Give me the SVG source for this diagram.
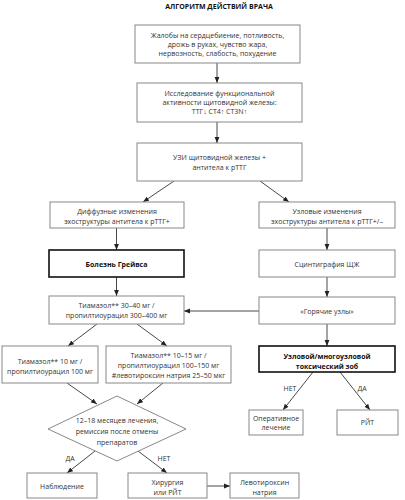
<svg xmlns="http://www.w3.org/2000/svg" width="405" height="500" viewBox="0 0 405 500">
<defs>
<marker id="ah" viewBox="0 0 10 10" refX="10" refY="5" markerWidth="6" markerHeight="6" orient="auto" markerUnits="userSpaceOnUse">
<path d="M0,1 L10,5 L0,9 Z" fill="#222"/>
</marker>
<style>
.bx{fill:#fff;stroke:#888;stroke-width:1}
.bb{fill:#fff;stroke:#111;stroke-width:1.6}
.t{font-family:"Open Sans","Noto Sans",sans-serif;font-size:7px;fill:#333;text-anchor:middle}
.b{font-weight:bold;fill:#111}
.c{fill:none;stroke:#333;stroke-width:0.9;marker-end:url(#ah)}
.l{fill:none;stroke:#333;stroke-width:0.9}
</style>
</defs>
<rect width="405" height="500" fill="#fff"/>
<text class="t b" x="219" y="9" font-size="7.2">АЛГОРИТМ ДЕЙСТВИЙ ВРАЧА</text>

<g id="connectors">
<path class="c" d="M217,63 L217,83"/>
<path class="c" d="M217,122 L217,143"/>
<path class="c" d="M174,181 L143,202"/>
<path class="c" d="M260,181 L289,202"/>
<path class="c" d="M116.5,228 L116.5,250"/>
<path class="c" d="M327,228 L327,250"/>
<path class="c" d="M116.5,277 L116.5,296"/>
<path class="c" d="M327,277 L327,297"/>
<path class="c" d="M259,311 L184,311"/>
<path class="c" d="M327,324 L327,346"/>
<path class="c" d="M97,324 L68,346"/>
<path class="c" d="M137,324 L167,346"/>
<path class="c" d="M67,383 L97,404"/>
<path class="c" d="M163,383 L137,404"/>
<path class="c" d="M95,451 L67,473"/>
<path class="c" d="M138,451 L167,473"/>
<path class="c" d="M207,486 L230,486"/>
<path class="c" d="M313,372 L283,410"/>
<path class="c" d="M340,372 L370,410"/>
<text class="t" x="70" y="461">ДА</text>
<text class="t" x="164" y="461">НЕТ</text>
<text class="t" x="290" y="391">НЕТ</text>
<text class="t" x="362" y="391">ДА</text>
</g>

<g id="n1"><rect class="bx" x="135" y="25" width="165" height="38"/>
<text class="t" x="217.5" y="37.5">Жалобы на сердцебиение, потливость,</text>
<text class="t" x="217.5" y="46.5">дрожь в руках, чувство жара,</text>
<text class="t" x="217.5" y="55.5">нервозность, слабость, похудение</text></g>

<g id="n2"><rect class="bx" x="137" y="83" width="165" height="39"/>
<text class="t" x="219.5" y="95.5">Исследование функциональной</text>
<text class="t" x="219.5" y="104.5">активности щитовидной железы:</text>
<text class="t" x="219.5" y="113.5">ТТГ↓ СТ4↑ СТ3N↑</text></g>

<g id="n3"><rect class="bx" x="137" y="143" width="165" height="38"/>
<text class="t" x="219.5" y="160">УЗИ щитовидной железы +</text>
<text class="t" x="219.5" y="170">антитела к рТТГ</text></g>

<g id="n4"><rect class="bx" x="50" y="202" width="134" height="26"/>
<text class="t" x="117" y="214">Диффузные изменения</text>
<text class="t" x="117" y="224">эхоструктуры антитела к рТТГ+</text></g>

<g id="n5"><rect class="bx" x="259" y="202" width="136" height="26"/>
<text class="t" x="327" y="214">Узловые изменения</text>
<text class="t" x="327" y="224">эхоструктуры антитела к рТТГ+/–</text></g>

<g id="n6"><rect class="bb" x="49" y="250" width="135" height="27"/>
<text class="t b" x="116.5" y="266.5">Болезнь Грейвса</text></g>

<g id="n7"><rect class="bx" x="259" y="250" width="136" height="27"/>
<text class="t" x="327" y="266.5">Сцинтиграфия ЩЖ</text></g>

<g id="n8"><rect class="bx" x="49" y="296" width="135" height="28"/>
<text class="t" x="116.5" y="307.5">Тиамазол** 30–40 мг /</text>
<text class="t" x="116.5" y="318">пропилтиоурацил 300–400 мг</text></g>

<g id="n9"><rect class="bx" x="259" y="297" width="136" height="27"/>
<text class="t" x="327" y="313.5">«Горячие узлы»</text></g>

<g id="n10"><rect class="bb" x="259" y="346" width="136" height="26"/>
<text class="t b" x="327" y="359">Узловой/многоузловой</text>
<text class="t b" x="327" y="369">токсический зоб</text></g>

<g id="n11"><rect class="bx" x="2" y="346" width="96" height="37"/>
<text class="t" x="50" y="364">Тиамазол** 10 мг /</text>
<text class="t" x="50" y="373.5">пропилтиоурацил 100 мг</text></g>

<g id="n12"><rect class="bx" x="106" y="346" width="125" height="37"/>
<text class="t" x="168.5" y="358">Тиамазол** 10–15 мг /</text>
<text class="t" x="168.5" y="368">пропилтиоурацил 100–150 мг</text>
<text class="t" x="168.5" y="378">#левотироксин натрия 25–50 мкг</text></g>

<g id="n13"><polygon class="bx" points="117,396 186,429 117,461 48,429"/>
<text class="t" x="117" y="422.5">12–18 месяцев лечения,</text>
<text class="t" x="117" y="433.5">ремиссия после отмены</text>
<text class="t" x="117" y="444.5">препаратов</text></g>

<g id="n14"><rect class="bx" x="27" y="473" width="70" height="25"/>
<text class="t" x="62" y="488.5">Наблюдение</text></g>

<g id="n15"><rect class="bx" x="128" y="473" width="79" height="25"/>
<text class="t" x="167.5" y="484.5">Хирургия</text>
<text class="t" x="167.5" y="494.5">или РЙТ</text></g>

<g id="n16"><rect class="bx" x="230" y="473" width="69" height="25"/>
<text class="t" x="264.5" y="484.5">Левотироксин</text>
<text class="t" x="264.5" y="494.5">натрия</text></g>

<g id="n17"><rect class="bx" x="249" y="410" width="54" height="25"/>
<text class="t" x="276" y="420.5">Оперативное</text>
<text class="t" x="276" y="430">лечение</text></g>

<g id="n18"><rect class="bx" x="337" y="410" width="61" height="25"/>
<text class="t" x="367.5" y="425">РЙТ</text></g>
</svg>
